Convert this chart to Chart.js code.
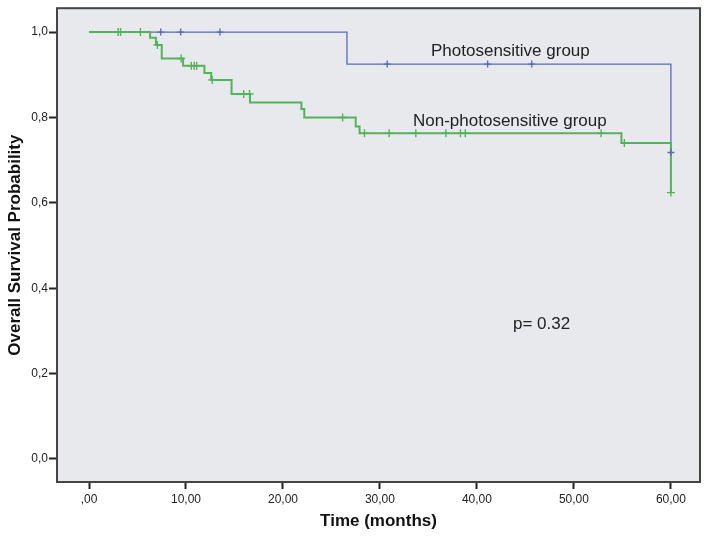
<!DOCTYPE html>
<html>
<head>
<meta charset="utf-8">
<script src="https://cdn.jsdelivr.net/npm/chart.js@4.4.1/dist/chart.umd.min.js"></script>
<style>
    html, body { margin: 0; padding: 0; background: #fff; }
    #wrap { width: 709px; height: 543px; }
</style>
</head>
<body>
<div id="wrap"><canvas id="kmChart" width="709" height="543"></canvas></div>
<script>
//Kaplan-Meier steps (months, survival)
let greenTimes = [0, 6.3, 6.9, 7.5, 9.7, 11.9, 12.6, 14.7, 16.6, 21.9, 22.2, 27.5, 27.9, 54.9, 60];
let greenSurv  = [1.0, 0.987, 0.970, 0.938, 0.921, 0.904, 0.888, 0.855, 0.835, 0.820, 0.800, 0.779, 0.763, 0.740, 0.624];

let blueTimes = [0, 26.6, 60];
let blueSurv  = [1.0, 0.925, 0.718];

//censored cases
let greenCensTimes = [3.0, 3.25, 5.3, 7.05, 9.5, 10.55, 10.85, 11.1, 12.7, 15.95, 16.55, 26.15, 28.4, 30.95, 33.7, 36.8, 38.3, 38.8, 52.8, 55.2, 60];
let greenCensSurv  = [1.0, 1.0, 1.0, 0.970, 0.938, 0.921, 0.921, 0.921, 0.888, 0.855, 0.855, 0.800, 0.763, 0.763, 0.763, 0.763, 0.763, 0.763, 0.763, 0.740, 0.624];

let blueCensTimes = [7.4, 9.45, 13.5, 30.75, 41.1, 45.65, 60];
let blueCensSurv  = [1.0, 1.0, 1.0, 0.925, 0.925, 0.925, 0.718];

//tick labels
let xTickLabels = [',00', '10,00', '20,00', '30,00', '40,00', '50,00', '60,00'];
let yTickLabels = ['0,0', '0,2', '0,4', '0,6', '0,8', '1,0'];

function toPoints(xs, ys)
{
    let pts = [];
    for(let i=0; i<xs.length; i++)
    {
        pts.push({x: xs[i], y: ys[i]});
    }
    return pts;
}

const GREEN = '#55B25C';
const BLUE = '#5A6CB2';

//grey plot area and frame, plus the text notes
const framePlugin = {
    id: 'frame',
    beforeDatasetsDraw(chart) {
        const a = chart.chartArea;
        const c = chart.ctx;
        c.save();
        c.fillStyle = '#E8E9EC';
        c.fillRect(a.left, a.top, a.right - a.left, a.bottom - a.top);
        c.restore();
    },
    afterDraw(chart) {
        const a = chart.chartArea;
        const c = chart.ctx;
        c.save();
        c.strokeStyle = '#444';
        c.lineWidth = 2;
        c.strokeRect(a.left, a.top, a.right - a.left, a.bottom - a.top);
        c.fillStyle = '#222';
        c.font = '17px "Liberation Sans", Arial, sans-serif';
        c.textBaseline = 'alphabetic';
        c.fillText('Photosensitive group', 431, 56);
        c.fillText('Non-photosensitive group', 413, 126);
        c.fillText('p= 0.32', 513, 329);
        c.restore();
    }
};

Chart.defaults.font.family = '"Liberation Sans", Arial, sans-serif';

const ctx = document.getElementById('kmChart').getContext('2d');
const kmChart = new Chart(ctx, {
    type: 'line',
    data: {
        datasets: [
            {
                label: 'Photosensitive censored',
                data: toPoints(blueCensTimes, blueCensSurv),
                showLine: false,
                pointStyle: 'cross',
                pointRadius: 3.5,
                borderColor: BLUE,
                borderWidth: 1.4,
                order: 0
            },
            {
                label: 'Non-photosensitive censored',
                data: toPoints(greenCensTimes, greenCensSurv),
                showLine: false,
                pointStyle: 'cross',
                pointRadius: 4,
                borderColor: GREEN,
                borderWidth: 1.4,
                order: 0
            },
            {
                label: 'Non-photosensitive group',
                data: toPoints(greenTimes, greenSurv),
                stepped: true,
                borderColor: GREEN,
                borderWidth: 2,
                pointRadius: 0,
                fill: false,
                order: 1
            },
            {
                label: 'Photosensitive group',
                data: toPoints(blueTimes, blueSurv),
                stepped: true,
                borderColor: BLUE,
                borderWidth: 1.3,
                pointRadius: 0,
                fill: false,
                order: 2
            }
        ]
    },
    options: {
        responsive: false,
        animation: false,
        layout: {
            padding: {left: 0, top: 8, right: 9, bottom: 0}
        },
        plugins: {
            legend: {display: false},
            tooltip: {enabled: false}
        },
        scales: {
            x: {
                type: 'linear',
                min: -3.3,
                max: 63.0,
                grid: {
                    drawOnChartArea: false,
                    tickLength: 7,
                    tickColor: '#222',
                    tickWidth: 2
                },
                border: {display: false},
                ticks: {
                    stepSize: 10,
                    includeBounds: false,
                    padding: 3,
                    color: '#222',
                    font: {size: 12},
                    maxRotation: 0,
                    callback: function(value) {
                        return xTickLabels[Math.round(value / 10)];
                    }
                },
                title: {
                    display: true,
                    text: 'Time (months)',
                    color: '#111',
                    font: {size: 17, weight: 'bold'},
                    padding: {top: 0, bottom: 11}
                },
                afterFit: function(scale) {
                    scale.height = 61;
                }
            },
            y: {
                min: -0.054,
                max: 1.056,
                grid: {
                    drawOnChartArea: false,
                    tickLength: 8,
                    tickColor: '#222',
                    tickWidth: 2
                },
                border: {display: false},
                ticks: {
                    stepSize: 0.2,
                    includeBounds: false,
                    padding: 1,
                    color: '#222',
                    font: {size: 12},
                    callback: function(value) {
                        return yTickLabels[Math.round(value / 0.2)];
                    }
                },
                title: {
                    display: true,
                    text: 'Overall Survival Probability',
                    color: '#111',
                    font: {size: 17, weight: 'bold'},
                    padding: {top: 5, bottom: 0}
                },
                afterFit: function(scale) {
                    scale.width = 57;
                }
            }
        }
    },
    plugins: [framePlugin]
});
</script>
</body>
</html>
